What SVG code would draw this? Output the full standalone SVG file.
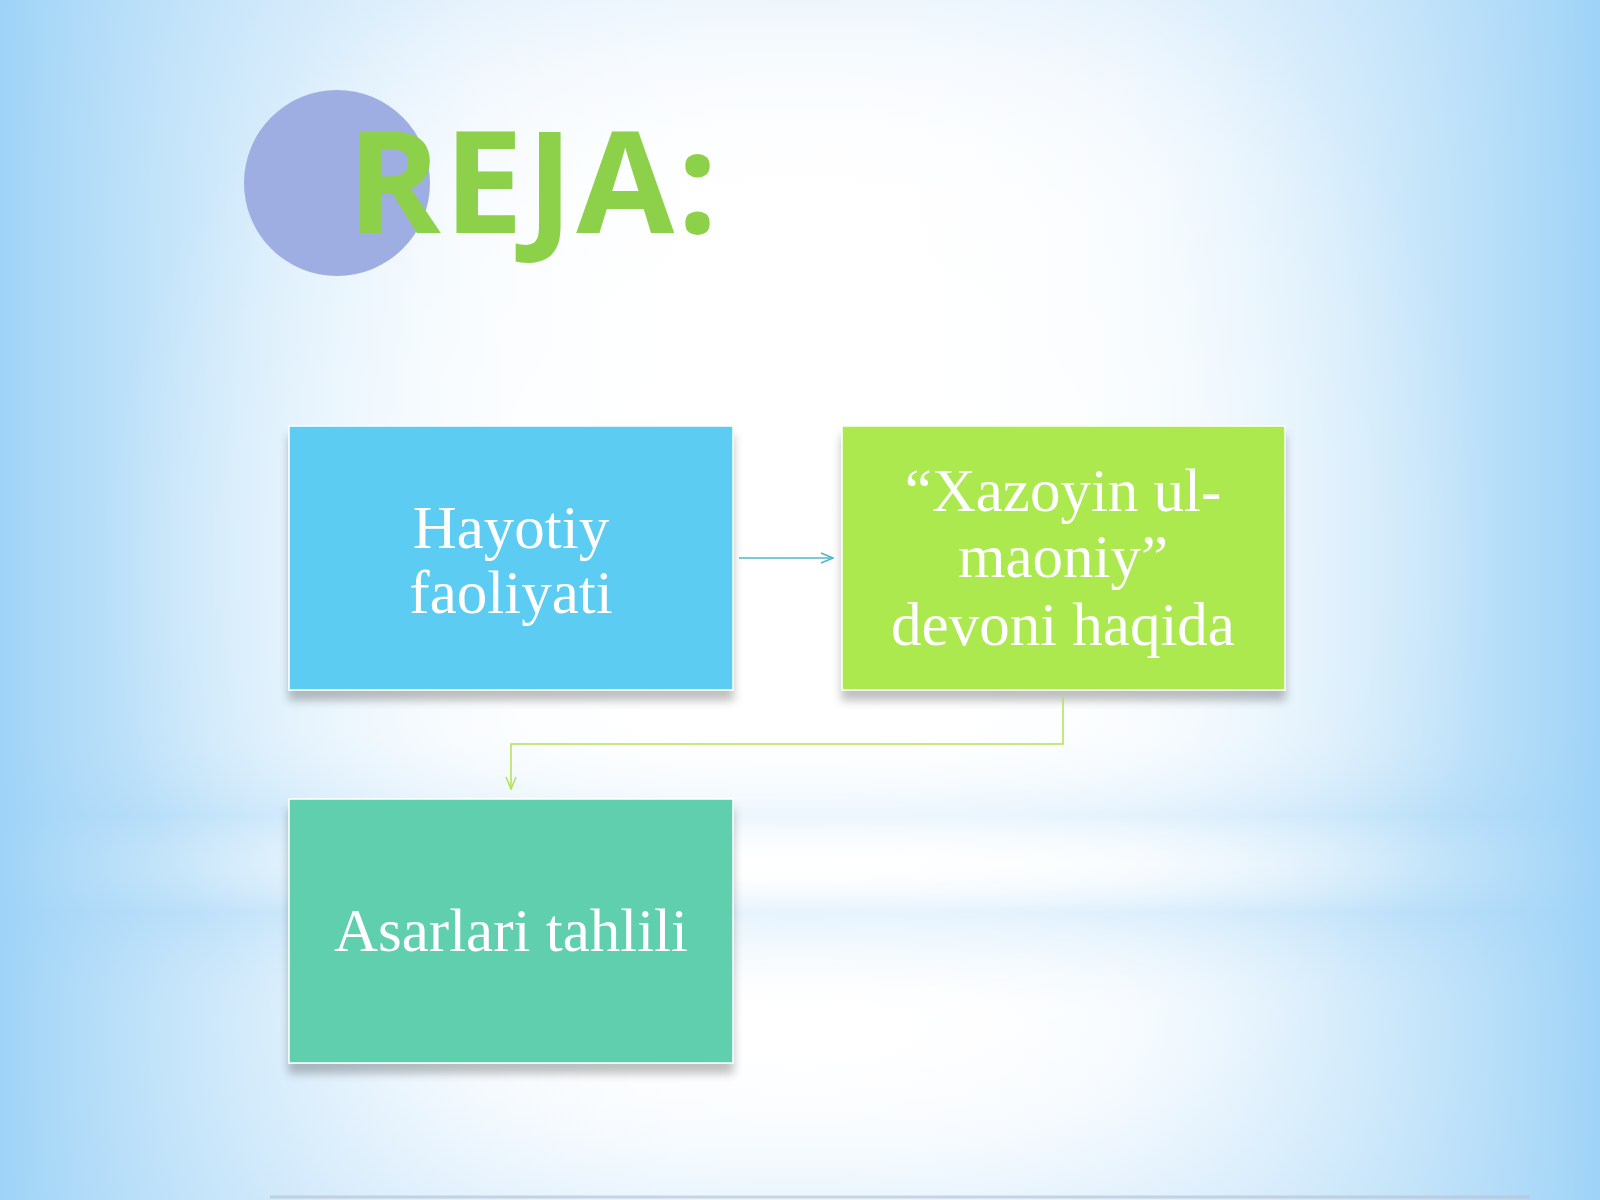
<svg xmlns="http://www.w3.org/2000/svg" width="1600" height="1200" viewBox="0 0 1600 1200">
  <defs>
    <linearGradient id="sides" x1="0" y1="0" x2="1" y2="0">
      <stop offset="0" stop-color="#9fd3f7" stop-opacity="1"/>
      <stop offset="0.12" stop-color="#b3dcf8" stop-opacity="0.7"/>
      <stop offset="0.3" stop-color="#cfe8fb" stop-opacity="0.2"/>
      <stop offset="0.5" stop-color="#ffffff" stop-opacity="0"/>
      <stop offset="0.7" stop-color="#cfe8fb" stop-opacity="0.2"/>
      <stop offset="0.88" stop-color="#b3dcf8" stop-opacity="0.7"/>
      <stop offset="1" stop-color="#9fd3f7" stop-opacity="1"/>
    </linearGradient>
    <linearGradient id="vert" x1="0" y1="0" x2="0" y2="1">
      <stop offset="0" stop-color="#dcedfb" stop-opacity="0.6"/>
      <stop offset="0.2" stop-color="#ffffff" stop-opacity="0"/>
      <stop offset="0.6" stop-color="#ffffff" stop-opacity="0"/>
      <stop offset="0.68" stop-color="#a9d6f8" stop-opacity="0.5"/>
      <stop offset="0.72" stop-color="#ffffff" stop-opacity="0.1"/>
      <stop offset="0.76" stop-color="#a9d6f8" stop-opacity="0.55"/>
      <stop offset="0.85" stop-color="#ffffff" stop-opacity="0"/>
      <stop offset="1" stop-color="#c8e4fa" stop-opacity="0.4"/>
    </linearGradient>
    <radialGradient id="glow" cx="800" cy="560" r="700" gradientUnits="userSpaceOnUse">
      <stop offset="0" stop-color="#ffffff" stop-opacity="0.85"/>
      <stop offset="0.6" stop-color="#ffffff" stop-opacity="0.4"/>
      <stop offset="1" stop-color="#ffffff" stop-opacity="0"/>
    </radialGradient>
    <filter id="shadow" x="-10%" y="-10%" width="120%" height="130%">
      <feGaussianBlur in="SourceAlpha" stdDeviation="5"/>
      <feOffset dx="0" dy="10"/>
      <feComponentTransfer><feFuncA type="linear" slope="0.25"/></feComponentTransfer>
      <feMerge><feMergeNode/><feMergeNode in="SourceGraphic"/></feMerge>
    </filter>
    <marker id="arrT" markerWidth="14" markerHeight="12" refX="13" refY="6" orient="auto" markerUnits="userSpaceOnUse">
      <path d="M1,1 L13,6 L1,11" fill="none" stroke="#4fb9c6" stroke-width="1.5"/>
    </marker>
    <marker id="arrG" markerWidth="14" markerHeight="12" refX="13" refY="6" orient="auto" markerUnits="userSpaceOnUse">
      <path d="M1,1 L13,6 L1,11" fill="none" stroke="#b7df52" stroke-width="1.5"/>
    </marker>
    <style>
      .box { stroke: #ffffff; stroke-width: 1.5; filter: url(#shadow); }
      .lbl { font-family: "Liberation Serif", "Times New Roman", serif; font-size: 61px; fill: #ffffff; text-anchor: middle; }
      .title { font-family: "Open Sans", "Noto Sans", sans-serif; font-weight: bold; font-size: 142px; letter-spacing: 3px; fill: #8dd14a; }
      .conn { fill: none; stroke-width: 1.5; }
    </style>
  </defs>

  <rect x="0" y="0" width="1600" height="1200" fill="#ffffff"/>
  <rect x="0" y="0" width="1600" height="1200" fill="url(#vert)"/>
  <rect x="0" y="0" width="1600" height="1200" fill="url(#sides)"/>
  <rect x="0" y="0" width="1600" height="1200" fill="url(#glow)"/>
  <line x1="270" y1="1197" x2="1530" y2="1197" stroke="#b8c6d6" stroke-width="3" opacity="0.7"/>

  <g id="title">
    <circle cx="337" cy="183" r="93" fill="#9eaee2"/>
    <text class="title" x="347" y="233">REJA:</text>
  </g>

  <g id="node-hayotiy">
    <rect class="box" x="289" y="426" width="444" height="264" fill="#5dccf2"/>
    <text class="lbl" x="511" y="548">Hayotiy</text>
    <text class="lbl" x="511" y="613">faoliyati</text>
  </g>

  <g id="node-xazoyin">
    <rect class="box" x="842" y="426" width="443" height="264" fill="#abe94f"/>
    <text class="lbl" x="1063" y="511">“Xazoyin ul-</text>
    <text class="lbl" x="1063" y="577">maoniy”</text>
    <text class="lbl" x="1063" y="645">devoni haqida</text>
  </g>

  <g id="node-asarlari">
    <rect class="box" x="289" y="799" width="444" height="264" fill="#60cfae"/>
    <text class="lbl" x="511" y="951">Asarlari tahlili</text>
  </g>

  <g id="connectors">
    <path class="conn" d="M739,558 L833,558" stroke="#4fb9c6" marker-end="url(#arrT)"/>
    <path class="conn" d="M1063,697 L1063,744 L511,744 L511,789" stroke="#b7df52" marker-end="url(#arrG)"/>
  </g>
</svg>
